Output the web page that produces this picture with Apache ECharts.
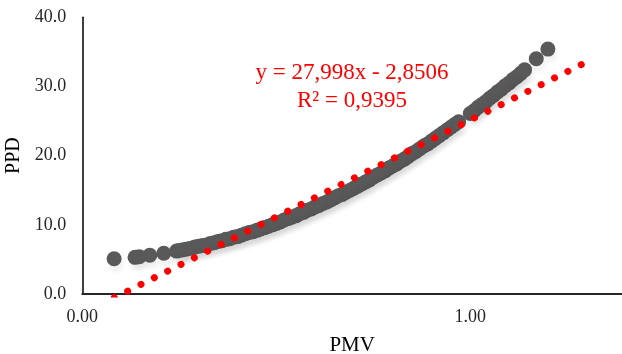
<!DOCTYPE html>
<html>
<head>
    <meta charset="UTF-8" />
    <title>PMV - PPD</title>
    <script type="text/javascript" src="https://cdn.jsdelivr.net/npm/echarts@6/dist/echarts.min.js"></script>
    <style>
        body { margin: 0; background: #fff; }
    </style>
</head>
<body>

<div id="main" style="width: 622px;height: 354px;"></div>

<script>
    // values
    var pmv = [0.082, 0.136, 0.147, 0.174, 0.21, 0.243,
        0.25, 0.26, 0.27, 0.28, 0.29, 0.30, 0.31, 0.32, 0.33, 0.34, 0.35, 0.36, 0.37, 0.38, 0.39,
        0.40, 0.41, 0.42, 0.43, 0.44, 0.45, 0.46, 0.47, 0.48, 0.49,
        0.50, 0.51, 0.52, 0.53, 0.54, 0.55, 0.56, 0.57, 0.58, 0.59,
        0.60, 0.61, 0.62, 0.63, 0.64, 0.65, 0.66, 0.67, 0.68, 0.69,
        0.70, 0.71, 0.72, 0.73, 0.74, 0.75, 0.76, 0.77, 0.78, 0.79,
        0.80, 0.81, 0.82, 0.83, 0.84, 0.85, 0.86, 0.87, 0.88, 0.89,
        0.90, 0.91, 0.92, 0.93, 0.94, 0.95, 0.96, 0.97,
        1.00, 1.01, 1.02, 1.03, 1.04, 1.05, 1.06, 1.07, 1.08, 1.09,
        1.10, 1.11, 1.12, 1.13, 1.14, 1.17, 1.20];
    var ppd = [5.1, 5.3, 5.4, 5.6, 5.9, 6.2,
        6.3, 6.4, 6.5, 6.6, 6.8, 6.9, 7.0, 7.1, 7.3, 7.4, 7.6, 7.7, 7.9, 8.0, 8.2,
        8.3, 8.5, 8.7, 8.9, 9.0, 9.2, 9.4, 9.6, 9.8, 10.0,
        10.2, 10.4, 10.7, 10.9, 11.1, 11.3, 11.6, 11.8, 12.1, 12.3,
        12.6, 12.8, 13.1, 13.3, 13.6, 13.9, 14.2, 14.4, 14.7, 15.0,
        15.3, 15.6, 15.9, 16.2, 16.5, 16.9, 17.2, 17.5, 17.8, 18.2,
        18.5, 18.8, 19.2, 19.5, 19.9, 20.3, 20.6, 21.0, 21.4, 21.7,
        22.1, 22.5, 22.9, 23.3, 23.7, 24.1, 24.5, 24.9,
        26.1, 26.5, 27.0, 27.4, 27.8, 28.3, 28.7, 29.2, 29.6, 30.1,
        30.5, 31.0, 31.4, 31.9, 32.4, 34.0, 35.4];

    // linear trend line, ends
    var trendX = [0.0825, 1.29];
    var trendY = [-0.54, 33.27];
    var trendText = ['y = 27,998x - 2,8506', 'R² = 0,9395'];

    var points = pmv.map(function (x, i) { return [x, ppd[i]]; });
    var trend = trendX.map(function (x, i) { return [x, trendY[i]]; });

    var serif = 'Liberation Serif, Times New Roman, serif';

    var mychart = echarts.init(document.getElementById('main'));

    var option = {
        animation: false,
        backgroundColor: '#ffffff',
        grid: { left: 82.3, right: 0, top: 17.3, bottom: 60, outerBoundsMode: 'none' },
        xAxis: {
            type: 'value',
            min: 0,
            max: 1.391,
            interval: 1,
            name: 'PMV',
            nameLocation: 'middle',
            nameGap: 41,
            nameTextStyle: { fontFamily: serif, fontSize: 21, color: '#000' },
            axisLine: { lineStyle: { color: '#262626', width: 2 } },
            axisTick: { show: false },
            splitLine: { show: false },
            axisLabel: {
                margin: 14,
                fontFamily: serif,
                fontSize: 18,
                color: '#262626',
                formatter: function (v) {
                    return Math.abs(v - Math.round(v)) < 1e-9 ? v.toFixed(2) : '';
                }
            }
        },
        yAxis: {
            type: 'value',
            min: 0,
            max: 40,
            interval: 10,
            name: 'PPD',
            nameLocation: 'middle',
            nameGap: 51,
            nameTextStyle: { fontFamily: serif, fontSize: 20, color: '#000' },
            axisLine: { show: true, lineStyle: { color: '#000', width: 1.5 } },
            axisTick: { show: false },
            splitLine: { show: false },
            axisLabel: {
                margin: 16,
                fontFamily: serif,
                fontSize: 18,
                color: '#262626',
                formatter: function (v) { return v.toFixed(1); }
            }
        },
        series: [
            {
                type: 'scatter',
                data: points,
                symbol: 'circle',
                symbolSize: 15,
                itemStyle: {
                    color: '#595959',
                    opacity: 1,
                    shadowColor: 'rgba(0,0,0,0.05)',
                    shadowBlur: 4,
                    shadowOffsetX: 2,
                    shadowOffsetY: 6
                },
                z: 2
            },
            {
                type: 'line',
                data: trend,
                showSymbol: false,
                symbol: 'none',
                clip: true,
                lineStyle: {
                    color: '#ff0000',
                    width: 7,
                    type: [0.01, 14.9],
                    cap: 'round'
                },
                z: 3
            }
        ],
        graphic: [
            {
                type: 'text',
                x: 352,
                y: 59,
                z: 10,
                style: {
                    text: trendText.join('\n'),
                    fill: '#ff0000',
                    font: '23px ' + serif,
                    lineHeight: 28,
                    align: 'center',
                    verticalAlign: 'top'
                }
            }
        ]
    };

    mychart.setOption(option);
</script>

</body>
</html>
